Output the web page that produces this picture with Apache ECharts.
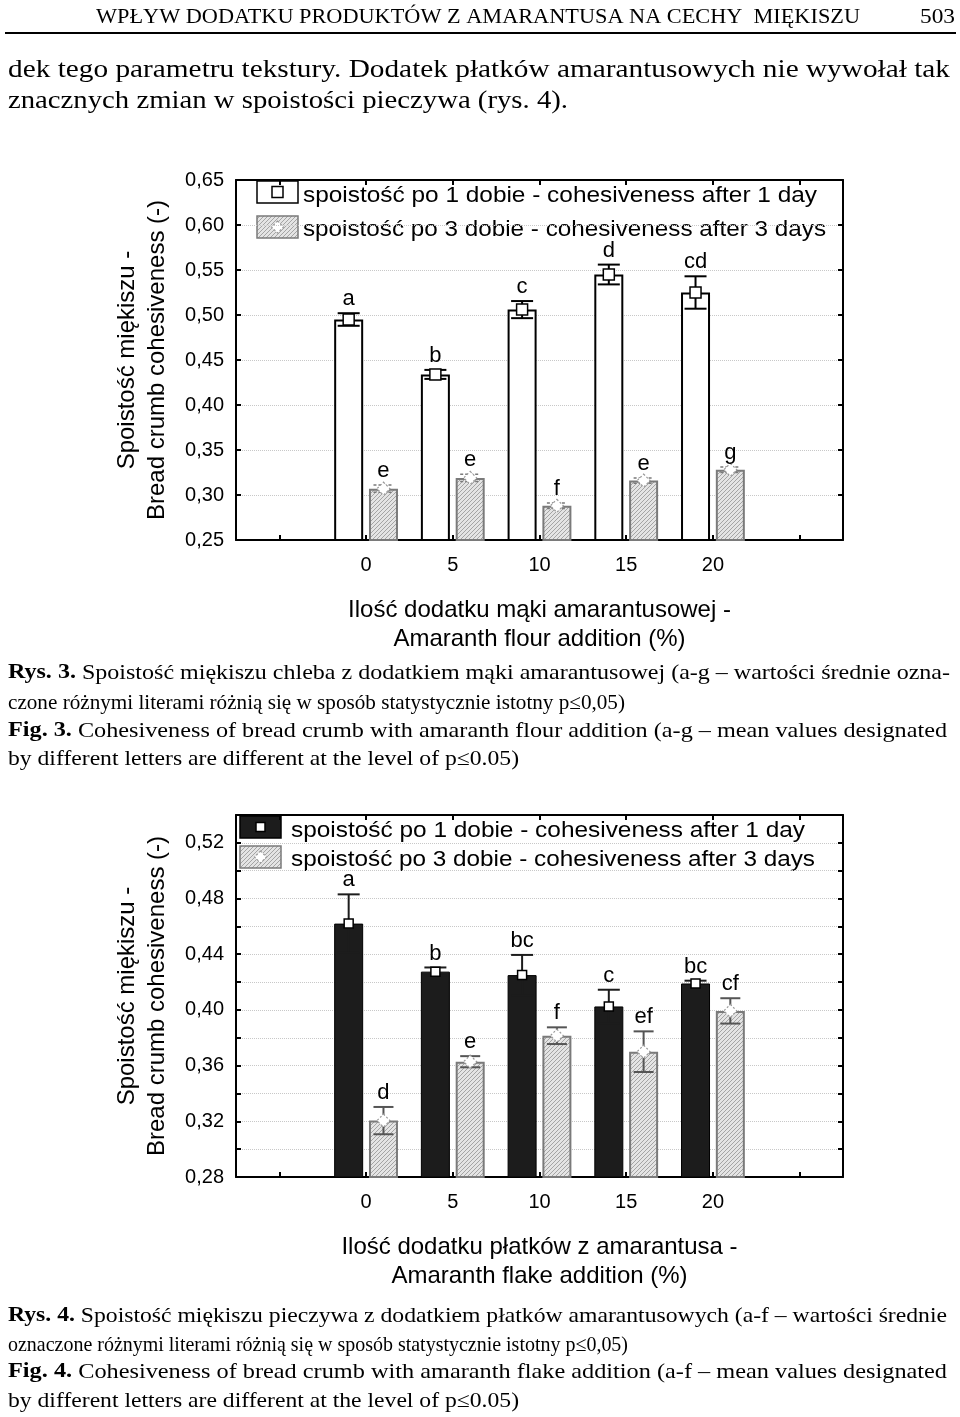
<!DOCTYPE html>
<html><head><meta charset="utf-8">
<script src="https://cdn.jsdelivr.net/npm/echarts@6/dist/echarts.min.js"></script>
<style>html,body{margin:0;padding:0;background:#fff;}#c{width:960px;height:1417px;}</style>
</head><body><div id="c"></div>
<script>
// ---------- data ----------
const categories = ['-5', '0', '5', '10', '15', '20', '25'];
const xTickLabels = ['', '0', '5', '10', '15', '20', ''];
const seriesNames = ['spoistość po 1 dobie - cohesiveness after 1 day', 'spoistość po 3 dobie - cohesiveness after 3 days'];

// Fig. 3 – amaranth flour
const fig3Day1 = [null, 0.495, 0.434, 0.506, 0.545, 0.525, null];
const fig3Day1Err = [null, 0.007, 0.005, 0.0095, 0.011, 0.018, null];
const fig3Day1Letters = ['', 'a', 'b', 'c', 'd', 'cd', ''];
const fig3Day3 = [null, 0.307, 0.319, 0.288, 0.316, 0.328, null];
const fig3Day3Err = [null, 0.004, 0.004, 0.003, 0.003, 0.003, null];
const fig3Day3Letters = ['', 'e', 'e', 'f', 'e', 'g', ''];

// Fig. 4 – amaranth flakes
const fig4Day1 = [null, 0.462, 0.4275, 0.425, 0.4025, 0.419, null];
const fig4Day1Err = [null, 0.021, 0.003, 0.0145, 0.012, 0.002, null];
const fig4Day1Letters = ['', 'a', 'b', 'bc', 'c', 'bc', ''];
const fig4Day3 = [null, 0.3205, 0.3628, 0.3815, 0.370, 0.3993, null];
const fig4Day3Err = [null, 0.0098, 0.004, 0.006, 0.0146, 0.0091, null];
const fig4Day3Letters = ['', 'd', 'e', 'f', 'ef', 'cf', ''];

// ---------- helpers ----------
const SANS = 'Liberation Sans';
const SERIF = 'Liberation Serif';
const mctx = document.createElement('canvas').getContext('2d');
function tw(text, font) { mctx.font = font; return mctx.measureText(text).width; }

function makeHatch() {
  const c = document.createElement('canvas');
  c.width = 4; c.height = 4;
  const g = c.getContext('2d');
  g.fillStyle = '#e4e4e4'; g.fillRect(0, 0, 4, 4);
  g.fillStyle = '#a4a4a4';
  for (let i = 0; i < 4; i++) g.fillRect(i, 3 - i, 1, 1);
  return c;
}
const hatchFill = { image: makeHatch(), repeat: 'repeat' };

function fitText(x, y, parts, target, size, family, align) {
  let total = 0, str = '';
  parts.forEach(p => {
    const t = p[0], b = p[1];
    total += tw(t, (b ? 'bold ' : '') + size + 'px ' + family);
    str += b ? '{b|' + t + '}' : t;
  });
  return {
    type: 'text', x: x, y: y, scaleX: target / total,
    style: {
      text: str, font: size + 'px ' + family, fill: '#000',
      verticalAlign: 'middle', align: align || 'left',
      rich: { b: { font: 'bold ' + size + 'px ' + family, fill: '#000' } }
    }
  };
}

function errData(vals, errs) {
  const out = [];
  vals.forEach((v, i) => { if (v != null) out.push([i, v, errs[i]]); });
  return out;
}

function errSeries(name, xi, yi, vals, errs, letters, offset, opt) {
  return {
    type: 'custom', name: name, xAxisIndex: xi, yAxisIndex: yi, z: 5,
    data: errData(vals, errs),
    renderItem: function (params, api) {
      const i = api.value(0), m = api.value(1), e = api.value(2);
      const c = api.coord([i, m]);
      const hi = api.coord([i, m + e]);
      const lo = api.coord([i, m - e]);
      const cx = c[0] + offset;
      const ls = { stroke: opt.color, lineWidth: opt.lw, lineDash: opt.dash || null };
      const hw = opt.cap / 2;
      const children = [
        { type: 'line', shape: { x1: cx, y1: hi[1], x2: cx, y2: lo[1] }, style: ls },
        { type: 'line', shape: { x1: cx - hw, y1: hi[1], x2: cx + hw, y2: hi[1] }, style: ls },
        { type: 'line', shape: { x1: cx - hw, y1: lo[1], x2: cx + hw, y2: lo[1] }, style: ls }
      ];
      if (opt.marker === 'square') {
        const s = opt.ms;
        children.push({ type: 'rect', shape: { x: cx - s / 2, y: c[1] - s / 2, width: s, height: s },
          style: { fill: '#fff', stroke: '#000', lineWidth: 1.5 } });
      } else {
        const s = opt.ms / 2;
        children.push({ type: 'polygon', shape: { points: [[cx, c[1] - s], [cx + s, c[1]], [cx, c[1] + s], [cx - s, c[1]]] },
          style: { fill: '#fff', stroke: '#9a9a9a', lineWidth: 1.2, lineDash: [2, 2] } });
      }
      children.push({ type: 'text', style: { text: letters[i], x: cx, y: hi[1] - 3, align: 'center',
        verticalAlign: 'bottom', font: '22px ' + SANS, fill: '#000' } });
      return { type: 'group', children: children };
    }
  };
}

function gridAxesX(gi, name) {
  return [
    { type: 'category', gridIndex: gi, data: categories, position: 'bottom',
      axisLine: { lineStyle: { color: '#000', width: 2 } },
      axisTick: { show: true, inside: true, alignWithLabel: true, interval: 0, length: 5, lineStyle: { color: '#000', width: 2 } },
      axisLabel: { interval: 0, margin: 15, fontFamily: SANS, fontSize: 20, color: '#000',
        formatter: (v, idx) => xTickLabels[idx] },
      name: name, nameLocation: 'middle', nameGap: 56,
      nameTextStyle: { fontFamily: SANS, fontSize: 24, color: '#000', lineHeight: 29 } },
    { type: 'category', gridIndex: gi, data: categories, position: 'top',
      axisLine: { lineStyle: { color: '#000', width: 2 } },
      axisTick: { show: true, inside: true, alignWithLabel: true, interval: 0, length: 5, lineStyle: { color: '#000', width: 2 } },
      axisLabel: { show: false } }
  ];
}

function gridAxesY(gi, min, max, interval, labelEvery, name) {
  const fmt = v => {
    const k = Math.round((v - min) / interval);
    return (k % labelEvery === 0) ? v.toFixed(2).replace('.', ',') : '';
  };
  return [
    { type: 'value', gridIndex: gi, min: min, max: max, interval: interval, position: 'left',
      axisLine: { show: true, lineStyle: { color: '#000', width: 2 } },
      axisTick: { show: true, inside: true, length: 5, lineStyle: { color: '#000', width: 2 } },
      axisLabel: { margin: 12, fontFamily: SANS, fontSize: 20, color: '#000', formatter: fmt },
      splitLine: { show: true, lineStyle: { color: '#c8c8c8', type: 'dotted', width: 1 } },
      name: name, nameLocation: 'middle', nameRotate: 90, nameGap: 64,
      nameTextStyle: { fontFamily: SANS, fontSize: 24, color: '#000', lineHeight: 30 } },
    { type: 'value', gridIndex: gi, min: min, max: max, interval: interval, position: 'right',
      axisLine: { show: true, lineStyle: { color: '#000', width: 2 } },
      axisTick: { show: true, inside: true, length: 5, lineStyle: { color: '#000', width: 2 } },
      axisLabel: { show: false }, splitLine: { show: false } }
  ];
}

const yName = 'Spoistość miękiszu -\nBread crumb cohesiveness (-)';
const OFF = 17.4;

const series = [
  { type: 'bar', name: seriesNames[0], xAxisIndex: 0, yAxisIndex: 0, data: fig3Day1, barWidth: 29, barGap: '20%',
    itemStyle: { color: '#fff', borderColor: '#000', borderWidth: 2 } },
  { type: 'bar', name: seriesNames[1], xAxisIndex: 0, yAxisIndex: 0, data: fig3Day3, barWidth: 29, barGap: '20%',
    itemStyle: { color: hatchFill, borderColor: '#7a7a7a', borderWidth: 2 } },
  errSeries(seriesNames[0], 0, 0, fig3Day1, fig3Day1Err, fig3Day1Letters, -OFF,
    { color: '#000', lw: 2, cap: 22, marker: 'square', ms: 11 }),
  errSeries(seriesNames[1], 0, 0, fig3Day3, fig3Day3Err, fig3Day3Letters, OFF,
    { color: '#7a7a7a', lw: 1.5, cap: 20, dash: [3, 2], marker: 'diamond', ms: 13 }),

  { type: 'bar', name: seriesNames[0], xAxisIndex: 2, yAxisIndex: 2, data: fig4Day1, barWidth: 29, barGap: '20%',
    itemStyle: { color: '#1c1c1c', borderColor: '#000', borderWidth: 1 } },
  { type: 'bar', name: seriesNames[1], xAxisIndex: 2, yAxisIndex: 2, data: fig4Day3, barWidth: 29, barGap: '20%',
    itemStyle: { color: hatchFill, borderColor: '#7a7a7a', borderWidth: 2 } },
  errSeries(seriesNames[0], 2, 2, fig4Day1, fig4Day1Err, fig4Day1Letters, -OFF,
    { color: '#1c1c1c', lw: 2, cap: 22, marker: 'square', ms: 9 }),
  errSeries(seriesNames[1], 2, 2, fig4Day3, fig4Day3Err, fig4Day3Letters, OFF,
    { color: '#555', lw: 2, cap: 20, marker: 'diamond', ms: 13 })
];

function legendGroup(x, y, dy, textX, firstDark, textW1, textW2) {
  const els = [];
  els.push({ type: 'rect', shape: { x: x, y: y, width: 41, height: 22 },
    style: { fill: firstDark ? '#1c1c1c' : '#fff', stroke: '#000', lineWidth: 1.5 } });
  const s = firstDark ? 9 : 11;
  els.push({ type: 'rect', shape: { x: x + 20.5 - s / 2, y: y + 11 - s / 2, width: s, height: s },
    style: { fill: '#fff', stroke: '#000', lineWidth: 1.5 } });
  els.push({ type: 'rect', shape: { x: x, y: y + dy, width: 41, height: 22 },
    style: { fill: hatchFill, stroke: '#7a7a7a', lineWidth: 1.5 } });
  const cx = x + 20.5, cy = y + dy + 11;
  els.push({ type: 'polygon', shape: { points: [[cx, cy - 6], [cx + 6, cy], [cx, cy + 6], [cx - 6, cy]] },
    style: { fill: '#fff', stroke: '#999', lineWidth: 1.2, lineDash: [2, 2] } });
  els.push(fitText(textX, y + 15, [[seriesNames[0], false]], textW1, 22, SANS));
  els.push(fitText(textX, y + dy + 14, [[seriesNames[1], false]], textW2, 22, SANS));
  return els;
}

const graphics = [
  fitText(96, 17, [['WPŁYW DODATKU PRODUKTÓW Z AMARANTUSA NA CECHY  MIĘKISZU', false]], 764, 21, SERIF),
  fitText(920, 17, [['503', false]], 35, 21, SERIF),
  { type: 'line', shape: { x1: 5, y1: 33, x2: 956, y2: 33 }, style: { stroke: '#000', lineWidth: 2 } },
  fitText(8, 70, [['dek tego parametru tekstury. Dodatek płatków amarantusowych nie wywołał tak', false]], 942, 25, SERIF),
  fitText(8, 101, [['znacznych zmian w spoistości pieczywa (rys. 4).', false]], 560, 25, SERIF),

  fitText(8, 673, [['Rys. 3.', true], [' Spoistość miękiszu chleba z dodatkiem mąki amarantusowej (a-g – wartości średnie ozna-', false]], 942, 21, SERIF),
  fitText(8, 703, [['czone różnymi literami różnią się w sposób statystycznie istotny p≤0,05)', false]], 617, 21, SERIF),
  fitText(8, 731, [['Fig. 3.', true], [' Cohesiveness of bread crumb with amaranth flour addition (a-g – mean values designated', false]], 939, 21, SERIF),
  fitText(8, 759, [['by different letters are different at the level of p≤0.05)', false]], 511, 21, SERIF),

  fitText(8, 1316, [['Rys. 4.', true], [' Spoistość miękiszu pieczywa z dodatkiem płatków amarantusowych (a-f – wartości średnie', false]], 939, 21, SERIF),
  fitText(8, 1345, [['oznaczone różnymi literami różnią się w sposób statystycznie istotny p≤0,05)', false]], 620, 21, SERIF),
  fitText(8, 1372, [['Fig. 4.', true], [' Cohesiveness of bread crumb with amaranth flake addition (a-f – mean values designated', false]], 939, 21, SERIF),
  fitText(8, 1401, [['by different letters are different at the level of p≤0.05)', false]], 511, 21, SERIF)
].concat(legendGroup(257, 181, 35, 303, false, 514, 523))
 .concat(legendGroup(240, 816, 30, 291, true, 514, 524));

const option = {
  animation: false,
  backgroundColor: '#fff',
  grid: [
    { left: 236, top: 180, width: 607, height: 360 },
    { left: 236, top: 815, width: 607, height: 362 }
  ],
  xAxis: gridAxesX(0, 'Ilość dodatku mąki amarantusowej -\nAmaranth flour addition (%)')
    .concat(gridAxesX(1, 'Ilość dodatku płatków z amarantusa -\nAmaranth flake addition (%)')),
  yAxis: gridAxesY(0, 0.25, 0.65, 0.05, 1, yName).concat(gridAxesY(1, 0.28, 0.54, 0.02, 2, yName)),
  series: series,
  graphic: graphics
};
const chart = echarts.init(document.getElementById('c'));
chart.setOption(option);
</script>
</body></html>
